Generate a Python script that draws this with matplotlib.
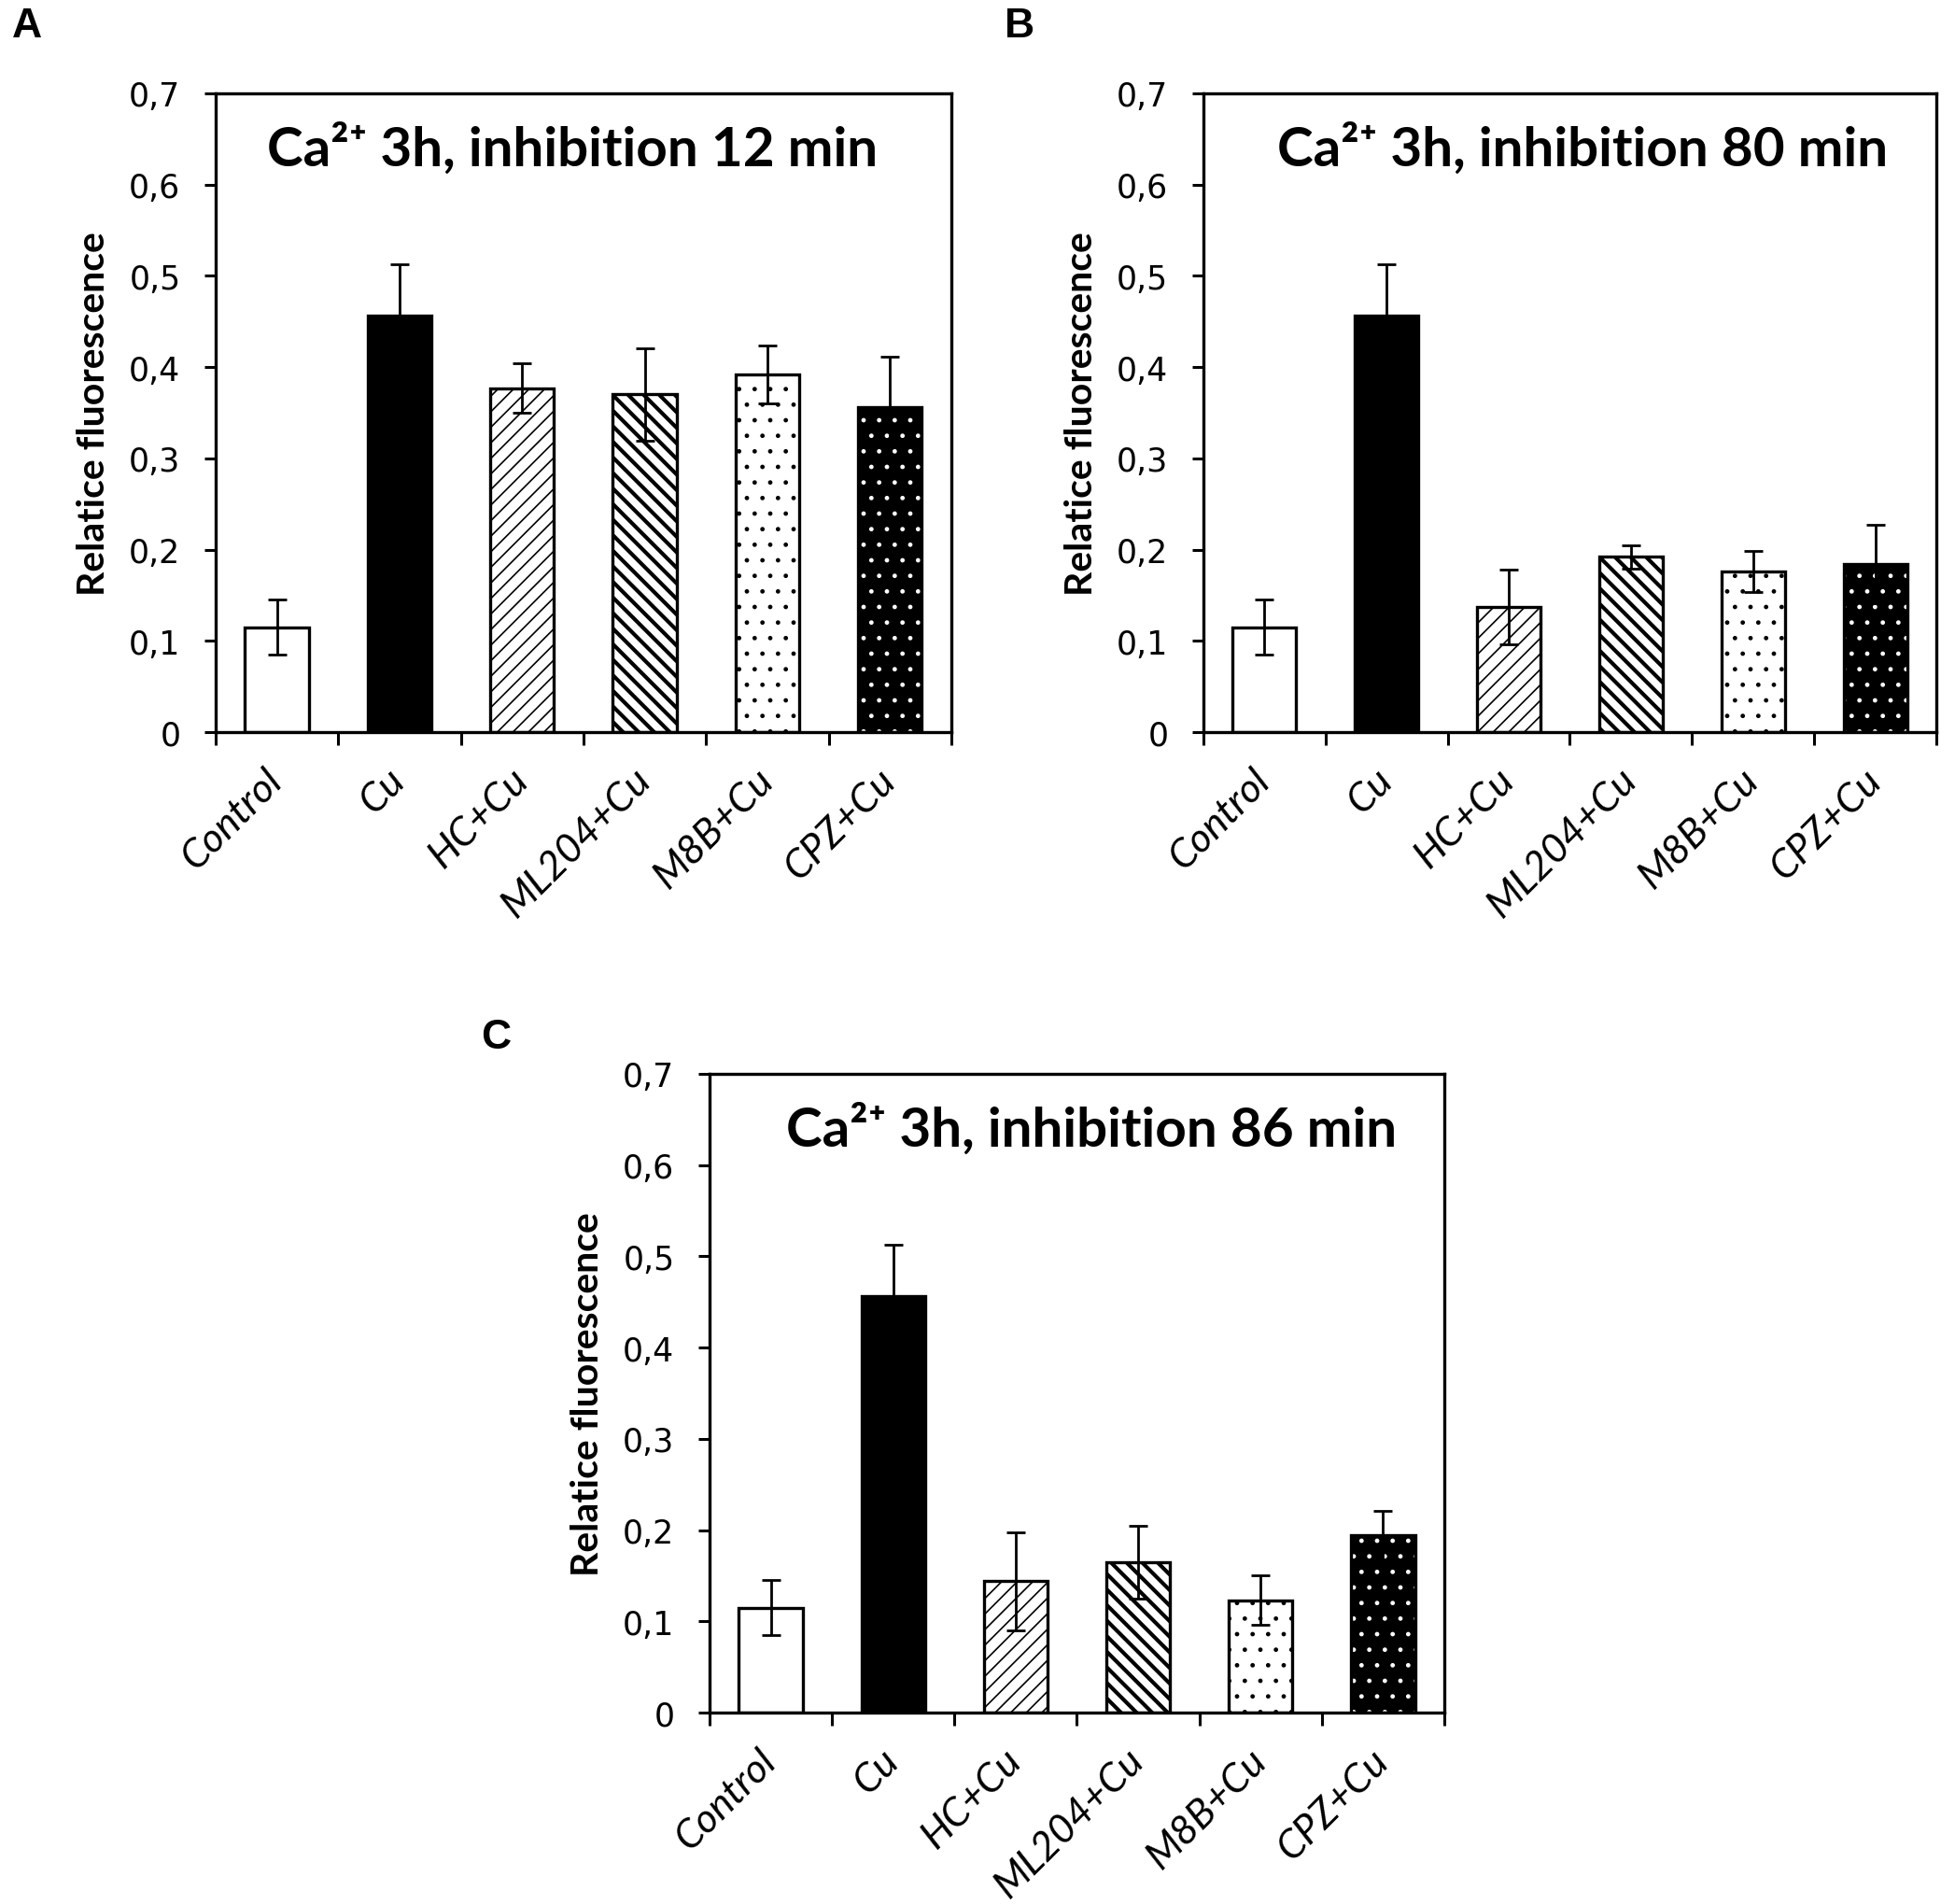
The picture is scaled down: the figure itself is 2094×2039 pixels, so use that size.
import matplotlib
matplotlib.use("Agg")
import matplotlib.pyplot as plt

plt.rcParams['font.family'] = ['Lato', 'DejaVu Sans']
plt.rcParams['hatch.linewidth'] = 1.2

groups = ['Control', 'Cu', 'HC+Cu', 'ML204+Cu', 'M8B+Cu', 'CPZ+Cu']

mean_12 = [0.115, 0.456, 0.377, 0.370, 0.392, 0.356]
err_12 = [0.030, 0.057, 0.027, 0.051, 0.032, 0.055]

mean_80 = [0.115, 0.456, 0.137, 0.192, 0.176, 0.184]
err_80 = [0.030, 0.057, 0.041, 0.013, 0.023, 0.043]

mean_86 = [0.115, 0.456, 0.144, 0.165, 0.123, 0.194]
err_86 = [0.030, 0.057, 0.054, 0.040, 0.027, 0.027]

titles = ['Ca²⁺ 3h, inhibition 12 min',
          'Ca²⁺ 3h, inhibition 80 min',
          'Ca²⁺ 3h, inhibition 86 min']
yticks = [0, 0.1, 0.2, 0.3, 0.4, 0.5, 0.6, 0.7]
ytick_labels = ['0', '0,1', '0,2', '0,3', '0,4', '0,5', '0,6', '0,7']

# face colour, hatch, hatch colour, hatch line width
styles = [('white', None, 'black', 1.0),
          ('black', None, 'black', 1.0),
          ('white', '//', 'black', 1.2),
          ('white', '\\\\', 'black', 3.0),
          ('white', '.', 'black', 1.0),
          ('black', '.', 'white', 1.0)]


def draw_panel(ax, means, errs, title, title_x):
    x = list(range(len(groups)))
    for i, (fc, hatch, hc, hlw) in enumerate(styles):
        with plt.rc_context({'hatch.linewidth': hlw}):
            bars = ax.bar(x[i], means[i], width=0.52, color=fc, edgecolor=hc,
                          hatch=hatch, linewidth=0, zorder=2)
        for b in bars:
            if hasattr(b, 'set_hatch_linewidth'):
                b.set_hatch_linewidth(hlw)
        # outline drawn separately so the white dots keep a black border
        ax.bar(x[i], means[i], width=0.52, fill=False, edgecolor='black',
               linewidth=2.4, zorder=3)
    ax.errorbar(x, means, yerr=errs, fmt='none', ecolor='black',
                elinewidth=2.0, capsize=7, capthick=2.0, zorder=4)
    ax.set_xlim(-0.5, 5.5)
    ax.set_ylim(0, 0.7)
    ax.set_yticks(yticks)
    ax.set_yticklabels(ytick_labels, family='DejaVu Sans', fontsize=25)
    ax.set_xticks([i - 0.5 for i in range(len(groups) + 1)])
    ax.set_xticklabels([])
    ax.set_xticks(x, minor=True)
    ax.set_xticklabels(groups, minor=True, rotation=45, ha='right',
                       va='center', rotation_mode='anchor', fontsize=31,
                       style='italic')
    ax.tick_params(axis='x', which='major', direction='out', length=10,
                   width=2.2)
    ax.tick_params(axis='x', which='minor', length=0, pad=32)
    ax.tick_params(axis='y', direction='out', length=9, width=2.2, pad=18)
    for sp in ax.spines.values():
        sp.set_linewidth(2.4)
    ax.set_ylabel('Relatice fluorescence', fontsize=29.5, fontweight='bold',
                  labelpad=14)
    ax.text(title_x, 0.914, title, transform=ax.transAxes, ha='center',
            va='center', fontsize=42, fontweight='bold')


fig = plt.figure(figsize=(20.94, 20.40), dpi=100)
ax_a = fig.add_axes([0.1103, 0.6152, 0.3763, 0.3353])
ax_b = fig.add_axes([0.6155, 0.6152, 0.3750, 0.3353])
ax_c = fig.add_axes([0.3629, 0.1005, 0.3759, 0.3353])

draw_panel(ax_a, mean_12, err_12, titles[0], 0.485)
draw_panel(ax_b, mean_80, err_80, titles[1], 0.517)
draw_panel(ax_c, mean_86, err_86, titles[2], 0.52)

for letter, lx, ly in [('A', 0.006, 0.986), ('B', 0.514, 0.986),
                       ('C', 0.246, 0.455)]:
    fig.text(lx, ly, letter, family='Liberation Sans', fontweight='bold',
             fontsize=32, ha='left', va='center')

fig.savefig('out.png', dpi=100)
